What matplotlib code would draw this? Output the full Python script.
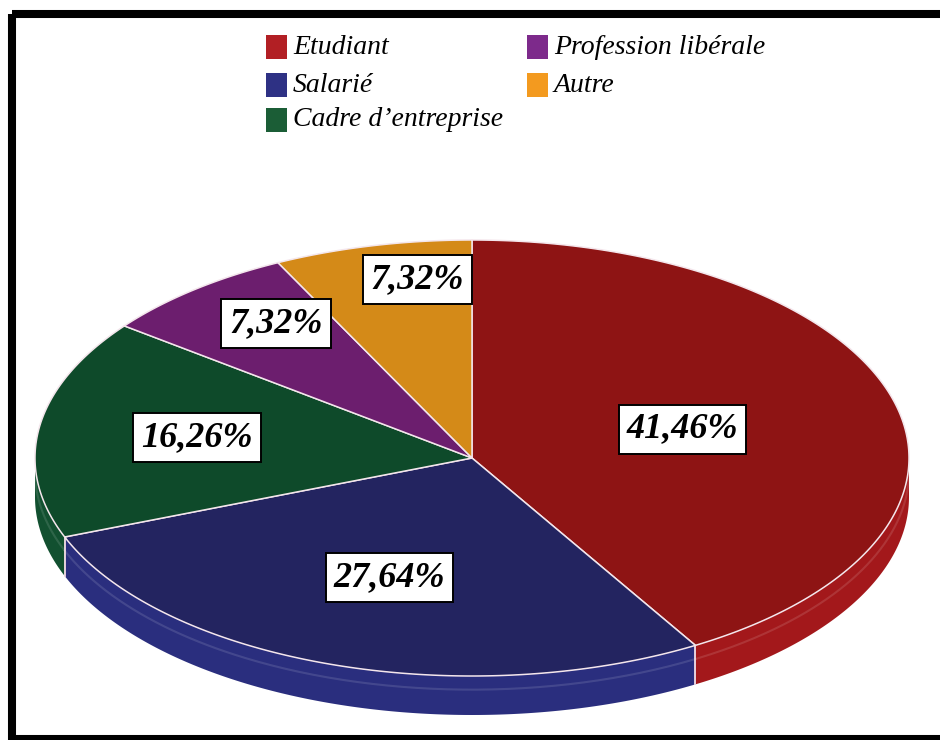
import numpy as np
import matplotlib
matplotlib.use('agg')
import matplotlib.pyplot as plt
from matplotlib.patches import Polygon, Rectangle

categories = ['Etudiant', 'Salarié', "Cadre d\u2019entreprise", 'Profession libérale', 'Autre']
values = [41.46, 27.64, 16.26, 7.32, 7.32]
pct_labels = ['41,46%', '27,64%', '16,26%', '7,32%', '7,32%']

top_colors = ['#8E1414', '#232460', '#0E4A2A', '#6C1E6E', '#D48A18']
side_colors = ['#A3181B', '#2A2E7E', '#125030', '#7A2680', '#E09520']
legend_colors = ['#B21F24', '#2E3184', '#1B5D36', '#7D2A8B', '#F39A1F']

# label position as fraction of the radius (x, y) along each slice's mid angle
label_frac = [(0.50, 0.50), (0.58, 0.58), (0.635, 0.66), (0.705, 0.80), (0.55, 0.84)]

W, H = 940, 740
cx, cy = 472, 458      # centre of the top face (pixels)
rx, ry = 437, 218      # ellipse radii
depth = 39             # thickness of the pie

fig = plt.figure(figsize=(W / 100, H / 100), dpi=100)
ax = fig.add_axes([0, 0, 1, 1])
ax.set_xlim(0, W)
ax.set_ylim(H, 0)
ax.axis('off')


def rim(t):
    # t in degrees, clockwise from 12 o'clock
    r = np.radians(t)
    return cx + rx * np.sin(r), cy - ry * np.cos(r)


bounds = np.concatenate([[0], np.cumsum(values)]) * 3.6

# side walls (only the front half, 90..270 degrees, is visible)
for i in range(len(values)):
    a, b = max(bounds[i], 90), min(bounds[i + 1], 270)
    if a >= b:
        continue
    t = np.linspace(a, b, 200)
    x, y = rim(t)
    pts = np.vstack([np.column_stack([x, y]), np.column_stack([x[::-1], y[::-1] + depth])])
    ax.add_patch(Polygon(pts, closed=True, facecolor=side_colors[i], edgecolor='none', zorder=1))
    # faint highlight on the wall
    ax.plot(x, y + depth * 0.35, color='white', alpha=0.12, lw=1.5, zorder=1.5)

# vertical seams where slices meet on the wall
for t0 in bounds[1:-1]:
    if 90 < t0 < 270:
        x0, y0 = rim(t0)
        ax.plot([x0, x0], [y0, y0 + depth], color='#F2DCE4', lw=1.3, zorder=2)

# top faces
for i in range(len(values)):
    t = np.linspace(bounds[i], bounds[i + 1], 300)
    x, y = rim(t)
    pts = np.vstack([[cx, cy], np.column_stack([x, y])])
    ax.add_patch(Polygon(pts, closed=True, facecolor=top_colors[i], edgecolor='#F4E6EC',
                         lw=1.1, joinstyle='round', zorder=3))

# percentage labels in white boxes
for i, lab in enumerate(pct_labels):
    mid = np.radians((bounds[i] + bounds[i + 1]) / 2)
    fx, fy = label_frac[i]
    lx = cx + rx * fx * np.sin(mid)
    ly = cy - ry * fy * np.cos(mid)
    ax.text(lx, ly, lab, ha='center', va='center', fontsize=26, fontweight='bold',
            fontstyle='italic', family='Liberation Serif', color='black', zorder=5,
            bbox=dict(boxstyle='square,pad=0.22', facecolor='white', edgecolor='black', lw=1.4))

# legend, two columns
leg_x = [266, 527]
leg_y = [47, 85, 120]
for i, name in enumerate(categories):
    col, row = (0, i) if i < 3 else (1, i - 3)
    x0, y0 = leg_x[col], leg_y[row]
    ax.add_patch(Rectangle((x0, y0 - 12), 21, 24, facecolor=legend_colors[i], edgecolor='none', zorder=5))
    ax.text(x0 + 27, y0, name, ha='left', va='center', fontsize=20, fontstyle='italic',
            family='Liberation Serif', color='black', zorder=5)

# black frame
ax.add_patch(Rectangle((12, 14), 1000, 725, facecolor='none', edgecolor='black', lw=5.8, zorder=6))

fig.savefig('out.png', dpi=100)
